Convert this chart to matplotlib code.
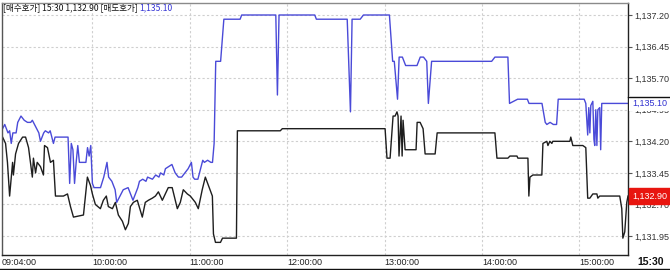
import matplotlib
matplotlib.use("Agg")
import matplotlib.pyplot as plt
from matplotlib.lines import Line2D

# 매도호가 (ask) - blue
ask_times = ["09:04:00", "09:06:00", "09:08:00", "09:09:00", "09:10:00", "09:11:00", "09:13:00", "09:14:00",
             "09:16:00", "09:18:00", "09:20:00", "09:22:00", "09:23:00", "09:25:00", "09:27:00", "09:28:00",
             "09:30:00", "09:31:00", "09:33:00", "09:34:00", "09:36:00", "09:37:00", "09:43:00", "09:45:00",
             "09:46:00", "09:47:00", "09:48:00", "09:49:00", "09:50:00", "09:51:00", "09:52:00", "09:56:00",
             "09:57:00", "09:58:00", "09:59:00", "10:00:00", "10:01:00", "10:05:00", "10:07:00", "10:09:00",
             "10:10:00", "10:12:00", "10:14:00", "10:15:00", "10:17:00", "10:19:00", "10:22:00", "10:23:00",
             "10:25:00", "10:28:00", "10:29:00", "10:31:00", "10:33:00", "10:34:00", "10:37:00", "10:39:00",
             "10:41:00", "10:42:00", "10:44:00", "10:45:00", "10:47:00", "10:49:00", "10:51:00", "10:53:00",
             "10:55:00", "10:57:00", "10:59:00", "11:01:00", "11:02:00", "11:03:00", "11:05:00", "11:08:00",
             "11:09:00", "11:11:00", "11:13:00", "11:14:00", "11:15:00", "11:16:00", "11:19:00", "11:21:00",
             "11:31:00", "11:32:00", "11:53:00", "11:54:00", "11:55:00", "12:17:00", "12:18:00", "12:37:00",
             "12:39:00", "12:40:00", "12:45:00", "12:47:00", "13:03:00", "13:05:00", "13:06:00", "13:08:00",
             "13:09:00", "13:11:00", "13:13:00", "13:20:00", "13:22:00", "13:24:00", "13:26:00", "13:27:00",
             "13:29:00", "14:06:00", "14:08:00", "14:16:00", "14:17:00", "14:22:00", "14:28:00", "14:29:00",
             "14:37:00", "14:39:00", "14:40:00", "14:42:00", "14:44:00", "14:46:00", "14:47:00", "15:03:00",
             "15:04:00", "15:05:10", "15:05:50", "15:06:30", "15:07:05", "15:08:20", "15:09:00", "15:09:30",
             "15:10:10", "15:10:50", "15:11:25", "15:12:35", "15:13:10", "15:13:50", "15:30:00"]
ask_prices = [1134.45, 1134.60, 1134.40, 1134.45, 1134.15, 1134.40, 1134.40, 1134.65,
              1134.80, 1134.70, 1134.65, 1134.65, 1134.70, 1134.55, 1134.40, 1134.20,
              1134.40, 1134.45, 1134.40, 1134.45, 1134.15, 1134.30, 1134.30, 1134.30,
              1133.20, 1134.15, 1134.00, 1133.20, 1133.70, 1134.10, 1133.70, 1133.70,
              1134.05, 1133.85, 1134.10, 1133.20, 1133.10, 1133.10, 1133.35, 1133.70,
              1133.35, 1133.25, 1133.05, 1132.75, 1132.90, 1133.05, 1133.10, 1133.00,
              1132.80, 1133.10, 1133.25, 1133.30, 1133.25, 1133.35, 1133.30, 1133.40,
              1133.35, 1133.45, 1133.40, 1133.55, 1133.60, 1133.65, 1133.45, 1133.35,
              1133.35, 1133.45, 1133.55, 1133.70, 1133.35, 1133.30, 1133.30, 1133.75,
              1133.70, 1133.75, 1133.70, 1133.70, 1134.15, 1136.10, 1136.10, 1137.10,
              1137.10, 1137.20, 1137.20, 1135.30, 1137.20, 1137.20, 1137.10, 1137.10,
              1134.90, 1137.10, 1137.10, 1137.20, 1137.20, 1136.10, 1136.10, 1135.20,
              1136.20, 1136.20, 1136.00, 1136.00, 1136.20, 1136.20, 1136.10, 1135.10,
              1136.10, 1136.10, 1136.20, 1136.20, 1135.10, 1135.20, 1135.20, 1135.10,
              1135.10, 1134.65, 1134.60, 1134.65, 1134.60, 1134.60, 1135.20, 1135.20,
              1135.10, 1134.35, 1135.00, 1134.40, 1135.05, 1135.15, 1134.25, 1134.10,
              1134.95, 1134.10, 1134.95, 1135.00, 1134.00, 1135.10, 1135.10]

# 매수호가 (bid) - black
bid_times = ["09:04:40", "09:06:30", "09:07:40", "09:09:00", "09:10:50", "09:11:20", "09:12:40", "09:14:30",
             "09:17:00", "09:18:50", "09:20:40", "09:23:00", "09:23:40", "09:25:00", "09:26:00", "09:28:00",
             "09:29:50", "09:30:30", "09:32:20", "09:34:10", "09:36:00", "09:37:15", "09:42:10", "09:44:40",
             "09:46:30", "09:48:20", "09:54:30", "09:56:55", "09:58:50", "10:00:00", "10:01:50", "10:04:55",
             "10:06:45", "10:08:35", "10:09:50", "10:12:20", "10:14:10", "10:16:00", "10:18:30", "10:20:20",
             "10:22:10", "10:23:25", "10:25:15", "10:27:40", "10:29:35", "10:30:45", "10:32:35", "10:34:30",
             "10:36:55", "10:38:50", "10:40:40", "10:43:05", "10:44:55", "10:46:45", "10:49:10", "10:51:05",
             "10:52:20", "10:54:10", "10:56:00", "10:58:30", "11:00:20", "11:03:25", "11:05:15", "11:07:40",
             "11:09:35", "11:11:30", "11:13:55", "11:14:35", "11:15:50", "11:18:55", "11:20:10", "11:28:45",
             "11:29:20", "11:55:45", "11:57:00", "13:00:20", "13:01:30", "13:03:25", "13:05:15", "13:06:30",
             "13:07:40", "13:08:20", "13:08:55", "13:10:10", "13:10:50", "13:11:25", "13:12:40", "13:19:25",
             "13:20:05", "13:21:55", "13:23:45", "13:25:00", "13:31:10", "13:32:25", "14:08:00", "14:09:15",
             "14:16:00", "14:17:15", "14:21:35", "14:22:10", "14:28:20", "14:28:55", "14:29:35", "14:31:25",
             "14:36:55", "14:37:35", "14:40:00", "14:40:40", "14:41:50", "14:43:05", "14:43:40", "14:54:10",
             "14:54:45", "14:56:00", "15:02:10", "15:04:00", "15:05:10", "15:06:30", "15:08:20", "15:10:50",
             "15:11:25", "15:12:35", "15:24:55", "15:26:10", "15:26:50", "15:28:00", "15:29:15", "15:30:00"]
bid_prices = [1134.30, 1134.15, 1133.70, 1132.90, 1133.70, 1133.40, 1133.90, 1134.15,
              1134.30, 1134.30, 1134.05, 1133.35, 1133.80, 1133.45, 1133.70, 1133.60,
              1133.40, 1134.10, 1134.05, 1133.70, 1133.75, 1132.90, 1132.90, 1132.95,
              1132.65, 1132.40, 1132.45, 1133.35, 1133.15, 1132.95, 1132.70, 1132.60,
              1132.80, 1132.90, 1132.65, 1132.60, 1132.75, 1132.45, 1132.30, 1132.10,
              1132.25, 1132.65, 1132.75, 1132.80, 1132.55, 1132.40, 1132.75, 1132.80,
              1132.85, 1132.90, 1133.00, 1132.80, 1132.95, 1133.10, 1133.10, 1132.80,
              1132.60, 1132.75, 1133.05, 1132.95, 1132.90, 1132.75, 1132.60, 1133.05,
              1133.35, 1133.15, 1132.90, 1132.00, 1131.80, 1131.80, 1131.90, 1131.90,
              1134.45, 1134.45, 1134.50, 1134.50, 1133.80, 1133.80, 1134.80, 1134.80,
              1134.90, 1134.80, 1133.85, 1134.80, 1133.85, 1134.70, 1134.00, 1134.00,
              1134.65, 1134.65, 1134.50, 1133.90, 1133.90, 1134.40, 1134.40, 1133.80,
              1133.80, 1133.85, 1133.85, 1133.80, 1133.80, 1132.90, 1133.35, 1133.40,
              1133.40, 1134.15, 1134.20, 1134.10, 1134.20, 1134.15, 1134.20, 1134.20,
              1134.30, 1134.10, 1134.10, 1134.05, 1132.85, 1132.85, 1132.95, 1132.95,
              1132.85, 1132.90, 1132.90, 1132.60, 1131.90, 1132.05, 1132.75, 1132.90]

price_ticks = [1131.95, 1132.70, 1133.45, 1134.20, 1134.95, 1135.70, 1136.45, 1137.20]
time_ticks = ["09:04:00", "10:00:00", "11:00:00", "12:00:00", "13:00:00", "14:00:00", "15:00:00"]
last_bid = 1132.90
last_ask = 1135.10


def to_min(s):
    h, m, sec = s.split(":")
    return int(h) * 60 + int(m) + int(sec) / 60


def fmt(v):
    return f"{v:,.2f}"


ax_x = [to_min(t) for t in ask_times]
bx_x = [to_min(t) for t in bid_times]

W, H = 670, 270
fig = plt.figure(figsize=(W / 100, H / 100), dpi=100)
ax = fig.add_axes([1.5 / W, 1 - 255 / H, (628 - 1.5) / W, 252 / H])

ax.plot(bx_x, bid_prices, color="#1e1e1e", lw=1.0)
ax.plot(ax_x, ask_prices, color="#4a4ad8", lw=1.0)

ax.set_xlim(to_min("09:04:00"), to_min("15:30:00"))
ax.set_ylim(1131.50, 1137.485)

num_font = "Liberation Sans"
ax.set_xticks([to_min(t) for t in time_ticks])
ax.set_xticklabels(time_ticks, ha="left", fontsize=6.5, family=num_font, color="#222222")
ax.tick_params(axis="x", length=0, pad=2.5)

ax.yaxis.tick_right()
ax.set_yticks(price_ticks)
ax.set_yticklabels([fmt(v) for v in price_ticks], fontsize=6.5, family=num_font, color="#333333")
ax.tick_params(axis="y", length=3, width=0.8, color="#555555", pad=1.5, direction="out")

ax.grid(True, linestyle=(0, (2, 2)), color="#cfcfcf", lw=0.8)

ax.spines["top"].set_color("#8a8a8a")
ax.spines["left"].set_color("#555555")
ax.spines["right"].set_color("#222222")
ax.spines["bottom"].set_color("#222222")
for s in ax.spines.values():
    s.set_linewidth(1.0)

# last bid marker (red box) and last ask marker (blue text)
ax.annotate(fmt(last_bid), xy=(1, last_bid), xycoords=("axes fraction", "data"),
            xytext=(3, 0), textcoords="offset points", ha="left", va="center",
            fontsize=6.5, family=num_font, color="white", zorder=5,
            bbox=dict(boxstyle="square,pad=0.35", fc="#e8150f", ec="#e8150f"))
ax.annotate(fmt(last_ask), xy=(1, last_ask), xycoords=("axes fraction", "data"),
            xytext=(3, 0), textcoords="offset points", ha="left", va="center",
            fontsize=6.5, family=num_font, color="#3030d0", zorder=5,
            bbox=dict(boxstyle="square,pad=0.3", fc="white", ec="none"))
ax.plot([1, 1.07], [last_ask + 0.15, last_ask + 0.15], transform=ax.get_yaxis_transform(),
        color="#111111", lw=1, clip_on=False, zorder=6)

# header
kfont = ["Noto Sans CJK KR", "DejaVu Sans"]
t1 = fig.text(3 / W, 1 - 3 / H, f"[매수호가] 15:30 {fmt(last_bid)} [매도호가] ", ha="left", va="top",
              fontsize=6.2, family=kfont, color="#111111")
ax.annotate(fmt(last_ask), xy=(1, 0), xycoords=t1, ha="left", va="bottom",
            fontsize=6.2, family=kfont, color="#3535d5")

fig.text(651 / W, 1 - 262 / H, "15:30", ha="center", va="center", fontsize=7.5,
         family=num_font, fontweight="bold", color="#111111")
fig.add_artist(Line2D([0, 1], [1 - 268.5 / H, 1 - 268.5 / H], color="#111111", lw=1))

fig.savefig("out.png", dpi=100, facecolor="white")
